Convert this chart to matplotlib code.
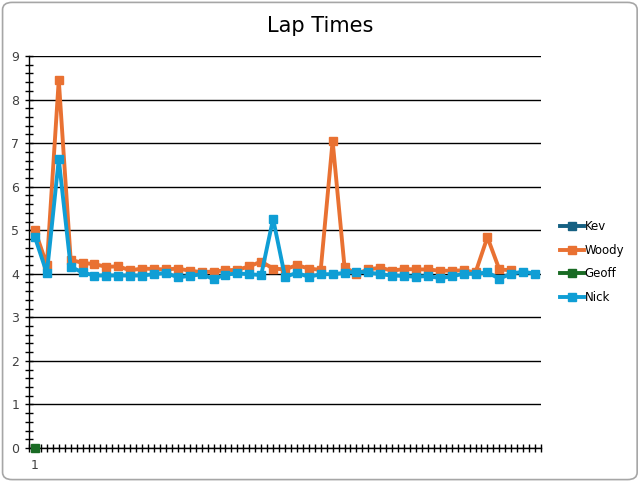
import matplotlib
matplotlib.use("Agg")
import matplotlib.pyplot as plt
from matplotlib.patches import FancyBboxPatch
import numpy as np

series_names = ["Kev", "Woody", "Geoff", "Nick"]
series_colors = ["#156082", "#E97132", "#196B24", "#0F9ED5"]

n_laps = 43
kev = []
woody = [5.0, 4.2, 8.45, 4.32, 4.25, 4.22, 4.16, 4.17, 4.08, 4.12,
         4.11, 4.1, 4.12, 4.07, 4.04, 4.05, 4.08, 4.09, 4.17, 4.28,
         4.12, 4.1, 4.2, 4.12, 4.09, 7.05, 4.15, 4.0, 4.1, 4.14,
         4.07, 4.11, 4.1, 4.1, 4.07, 4.07, 4.08, 4.03, 4.84, 4.1, 4.08]
geoff = [0]
nick = [4.84, 4.01, 6.63, 4.16, 4.03, 3.96, 3.96, 3.96, 3.96, 3.96,
        3.99, 4.02, 3.92, 3.95, 3.99, 3.88, 3.98, 4.01, 3.99, 3.97,
        5.26, 3.93, 4.02, 3.93, 3.99, 3.99, 4.02, 4.05, 4.03, 3.99,
        3.96, 3.95, 3.93, 3.95, 3.9, 3.94, 4.0, 4.0, 4.03, 3.89,
        4.0, 4.05, 4.0]

fig = plt.figure(figsize=(6.41, 4.82), dpi=100)
ax = fig.add_axes([29 / 641, 34 / 482, 512 / 641, 392 / 482])

# rounded chart border like Excel
border = FancyBboxPatch((0.004, 0.005), 0.99, 0.99, boxstyle="round,pad=0,rounding_size=0.015",
                        transform=fig.transFigure, fill=False, ec="#A6A6A6", lw=1.2)
fig.patches.append(border)

for name, col, vals in zip(series_names, series_colors, [kev, woody, geoff, nick]):
    x = np.arange(len(vals))
    ax.plot(x, vals, color=col, lw=2.8, marker="s", ms=5.5, label=name,
            solid_joinstyle="round", clip_on=False, zorder=3)

ax.set_xlim(-0.5, n_laps - 0.5)
ax.set_ylim(0, 9)

ax.set_yticks(range(0, 10))
ax.set_yticks(np.arange(0, 9.01, 0.2), minor=True)
ax.grid(True, axis="y", which="major", color="#000000", lw=1.0)
ax.set_axisbelow(True)

ax.set_xticks(np.arange(-0.5, n_laps, 1.0))
ax.set_xticklabels([])
ax.set_xticks(np.arange(n_laps), labels=["1"] + [""] * (n_laps - 1), minor=True)

ax.tick_params(axis="both", which="both", direction="inout", color="black", width=1.0)
ax.tick_params(axis="y", which="major", length=6, labelsize=9, labelcolor="#404040", pad=4)
ax.tick_params(axis="y", which="minor", length=6)
ax.tick_params(axis="x", which="major", length=6)
ax.tick_params(axis="x", which="minor", length=6, labelsize=9, labelcolor="#404040", pad=5)

for s in ["top", "right"]:
    ax.spines[s].set_visible(False)
ax.spines["left"].set_color("black")
ax.spines["bottom"].set_color("black")
ax.spines["left"].set_linewidth(1.0)
ax.spines["bottom"].set_linewidth(1.0)
ax.spines["bottom"].set_zorder(0.5)

fig.text(0.5, 0.947, "Lap Times", ha="center", va="center", fontsize=15, color="#000000")

fig.legend(loc="center left", bbox_to_anchor=(558 / 641, 1 - 262 / 482), frameon=False,
           fontsize=8.5, handlelength=2.0, handletextpad=0.05, labelspacing=0.9,
           borderaxespad=0, borderpad=0.2)

fig.savefig("out.png", dpi=100)
